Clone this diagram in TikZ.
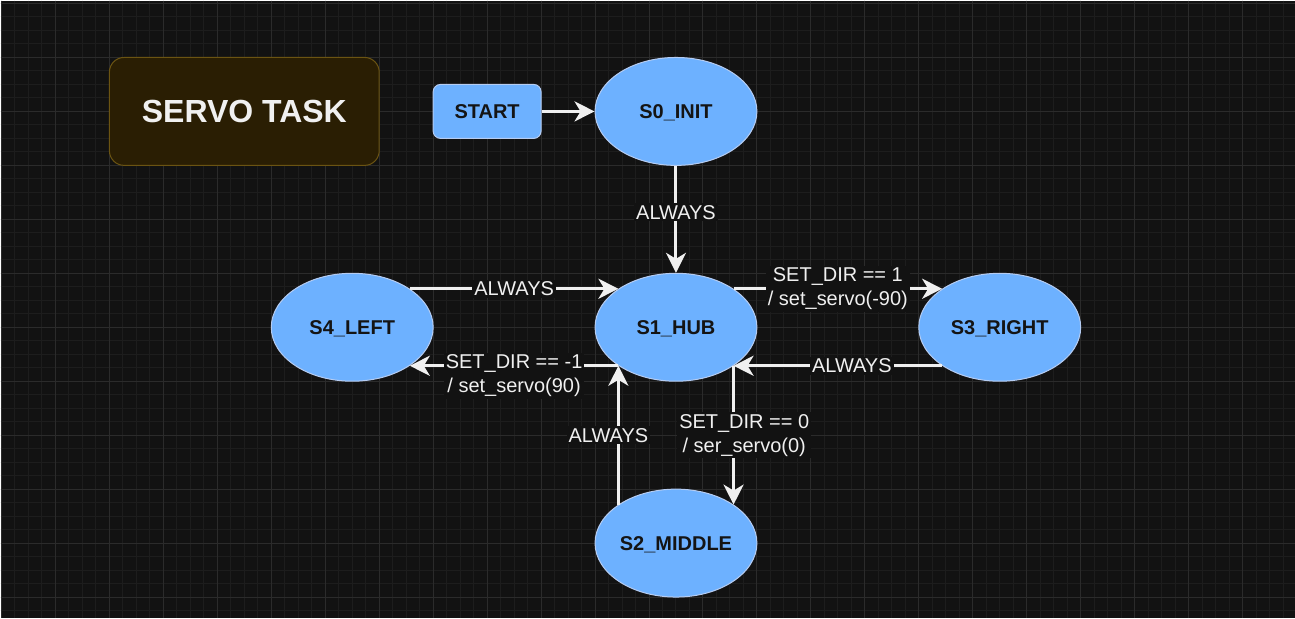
\documentclass[tikz,border=0pt]{standalone}
\usepackage{fontspec}
\setmainfont{Liberation Sans}
\usetikzlibrary{shapes.geometric,arrows.meta}

\definecolor{bgdark}{HTML}{121212}
\definecolor{gridminor}{HTML}{1D1D1D}
\definecolor{gridmajor}{HTML}{2B2B2B}
\definecolor{statefill}{HTML}{6DB1FF}
\definecolor{statedraw}{HTML}{B5CCF2}
\definecolor{statetext}{HTML}{141414}
\definecolor{titlefill}{HTML}{2A1E03}
\definecolor{titledraw}{HTML}{6B5412}
\definecolor{wire}{HTML}{F0F0F0}

\tikzset{
    state/.style={ellipse, draw=statedraw, fill=statefill, line width=0.75pt,
        minimum width=121.5pt, minimum height=81pt, inner sep=0pt,
        text=statetext, font=\bfseries\fontsize{15}{18}\selectfont,
        text height=10.7pt, text depth=0pt},
    startbox/.style={rectangle, rounded corners=5.5pt, draw=statedraw, fill=statefill,
        line width=0.75pt, minimum width=81pt, minimum height=40.5pt, inner sep=0pt,
        text=statetext, font=\bfseries\fontsize{15}{18}\selectfont,
        text height=10.7pt, text depth=0pt},
    titlebox/.style={rectangle, rounded corners=11pt, draw=titledraw, fill=titlefill,
        line width=0.75pt, minimum width=202.5pt, minimum height=81pt, inner sep=0pt,
        text=wire, font=\bfseries\fontsize{24}{28}\selectfont,
        text height=17.2pt, text depth=0pt},
    trans/.style={draw=wire, line width=2.25pt,
        -{Stealth[length=15pt, width=15pt, inset=4.5pt]}},
    translabel/.style={fill=bgdark, text=wire, font=\fontsize{15}{18}\selectfont,
        inner sep=1.5pt, align=center},
}

\begin{document}
\begin{tikzpicture}[x=0.75pt, y=-0.75pt]
    % Background and grid
    \fill[bgdark] (0,0) rectangle (1295,618);
    \foreach \k in {0,...,95} {
        \draw[gridminor, line width=0.75pt] ({1+13.5*\k},0) -- ({1+13.5*\k},618);
    }
    \foreach \k in {0,...,45} {
        \draw[gridminor, line width=0.75pt] (0,{3+13.5*\k}) -- (1295,{3+13.5*\k});
    }
    \foreach \k in {0,...,23} {
        \draw[gridmajor, line width=0.75pt] ({1+54*\k},0) -- ({1+54*\k},618);
    }
    \foreach \k in {0,...,11} {
        \draw[gridmajor, line width=0.75pt] (0,{3+54*\k}) -- (1295,{3+54*\k});
    }

    % Title
    \node[titlebox] (title) at (244,111) {SERVO TASK};

    % States
    \node[startbox] (start) at (487,111) {START};
    \node[state] (s0) at (676,111) {S0\_INIT};
    \node[state] (s1) at (676,327) {S1\_HUB};
    \node[state] (s4) at (352,327) {S4\_LEFT};
    \node[state] (s3) at (1000,327) {S3\_RIGHT};
    \node[state] (s2) at (676,543) {S2\_MIDDLE};

    % Transitions
    \draw[trans] (start.east) -- (s0.west);
    \draw[trans] (s0.south) -- node[translabel, pos=0.435] {ALWAYS} (s1.north);
    \draw[trans] (s4.north east) -- node[translabel] {ALWAYS} (s1.north west);
    \draw[trans] (s1.south west) -- node[translabel, yshift=-7.5pt]
        {SET\_DIR == -1\\/ set\_servo(90)} (s4.south east);
    \draw[trans] (s1.north east) -- node[translabel]
        {SET\_DIR == 1\\/ set\_servo(-90)} (s3.north west);
    \draw[trans] (s3.south west) -- node[translabel, pos=0.433] {ALWAYS} (s1.south east);
    \draw[trans] (s2.north west) -- node[translabel, xshift=-7.5pt] {ALWAYS} (s1.south west);
    \draw[trans] (s1.south east) -- node[translabel, xshift=8pt]
        {SET\_DIR == 0\\/ ser\_servo(0)} (s2.north east);
\end{tikzpicture}
\end{document}
